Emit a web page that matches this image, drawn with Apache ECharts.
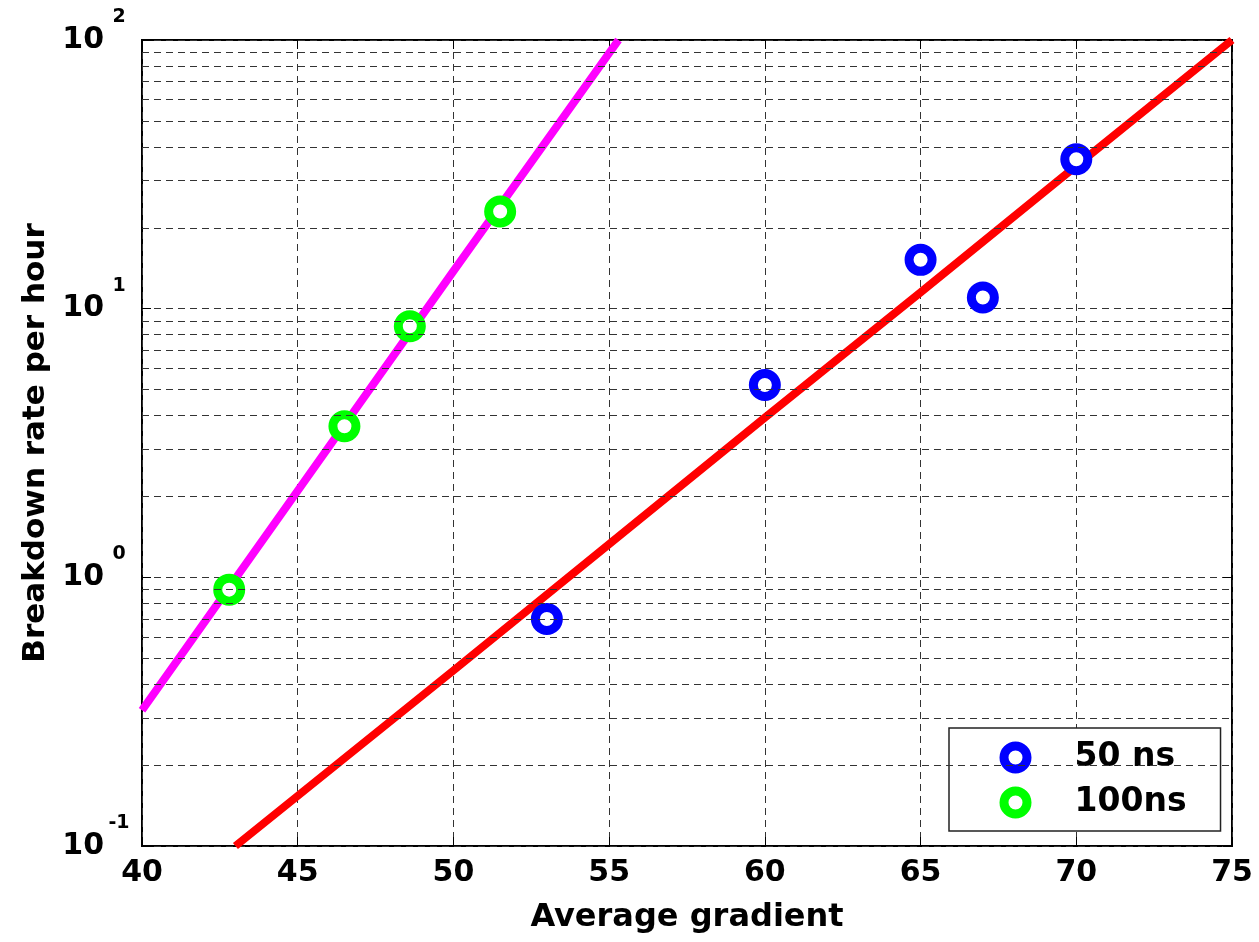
<!DOCTYPE html>
<html lang="en">

<head>
    <meta charset="UTF-8">
    <title>Breakdown rate</title>
    <script src="https://cdn.jsdelivr.net/npm/echarts@6/dist/echarts.min.js"></script>
</head>

<body style="margin:0;background:#fff;">
    <div id="main" style="width: 1259px;height:942px;"></div>
    <script type="text/javascript">
        // 数据点 (gradient, rate)
        var pts50 = [[53, 0.7], [60, 5.2], [65, 15.2], [67, 11.0], [70, 36]];
        var pts100 = [[42.8, 0.9], [46.5, 3.65], [48.6, 8.6], [51.5, 23]];
        // 拟合线
        var fit50 = [[43, 0.1], [50, 0.45], [55, 1.33], [60, 3.93], [65, 11.5], [70, 34], [75, 100]];
        var fit100 = [[40, 0.32], [45, 2.1], [50, 13.8], [55.3, 100]];
        // 对数网格线
        var minorY = [0.2, 0.3, 0.4, 0.5, 0.6, 0.7, 0.8, 0.9, 2, 3, 4, 5, 6, 7, 8, 9, 20, 30, 40, 50, 60, 70, 80, 90];

        var font = 'DejaVu Sans, sans-serif';
        var dash = { color: '#333', width: 1, type: [7, 5] };

        var myChart = echarts.init(document.getElementById('main'));
        var option = {
            animation: false,
            textStyle: { fontFamily: font },
            grid: {
                left: 142, right: 27, top: 40, bottom: 96,
                outerBoundsMode: 'none',
                containLabel: false,
                show: true, borderColor: '#000', borderWidth: 2
            },
            legend: {
                orient: 'vertical',
                left: 949, top: 728,
                padding: [13, 34, 12, 50.5],
                itemGap: 12,
                itemWidth: 23, itemHeight: 23,
                borderColor: '#222', borderWidth: 1.5,
                backgroundColor: '#fff',
                data: [
                    { name: '50 ns', icon: 'circle', itemStyle: { color: '#fff', borderColor: '#0000ff', borderWidth: 9 } },
                    { name: '100ns', icon: 'circle', itemStyle: { color: '#fff', borderColor: '#00ff00', borderWidth: 9 } }
                ],
                textStyle: {
                    fontSize: 33, fontWeight: 'bold', color: '#000',
                    lineHeight: 32,
                    padding: [0, 0, 0, 42.5]
                }
            },
            xAxis: [{
                type: 'value', min: 40, max: 75, interval: 5,
                name: 'Average gradient', nameLocation: 'middle', nameGap: 56,
                nameTextStyle: { fontSize: 32, fontWeight: 'bold', color: '#000' },
                axisLine: { show: false },
                axisTick: { inside: true, length: 9, lineStyle: { color: '#000' } },
                axisLabel: { fontSize: 30, fontWeight: 'bold', color: '#000', margin: 12 },
                splitLine: { lineStyle: dash }
            }, {
                type: 'value', min: 40, max: 75, interval: 5, position: 'top',
                axisLine: { show: false },
                axisTick: { inside: true, length: 9, lineStyle: { color: '#000' } },
                axisLabel: { show: false },
                splitLine: { show: false }
            }],
            yAxis: [{
                type: 'log', logBase: 10, min: 0.1, max: 100,
                name: 'Breakdown rate per hour', nameLocation: 'middle', nameGap: 88,
                nameTextStyle: { fontSize: 31, fontWeight: 'bold', color: '#000' },
                axisLine: { show: false },
                axisTick: { inside: true, length: 9, lineStyle: { color: '#000' } },
                axisLabel: {
                    margin: 14,
                    formatter: function (v) {
                        var e = Math.round(Math.log10(v));
                        return '{b|10}{s|' + e + '}';
                    },
                    rich: {
                        b: { fontSize: 30, fontWeight: 'bold', color: '#000', fontFamily: font },
                        s: {
                            fontSize: 19, fontWeight: 'bold', color: '#000', fontFamily: font,
                            width: 18, align: 'left', padding: [0, 0, 46, 6]
                        }
                    }
                },
                splitLine: { lineStyle: dash }
            }, {
                type: 'log', logBase: 10, min: 0.1, max: 100, position: 'right',
                axisLine: { show: false },
                axisTick: { inside: true, length: 9, lineStyle: { color: '#000' } },
                axisLabel: { show: false },
                splitLine: { show: false }
            }],
            series: [
                {
                    name: 'grid',
                    type: 'line',
                    data: [],
                    silent: true,
                    markLine: {
                        silent: true,
                        symbol: 'none',
                        label: { show: false },
                        lineStyle: dash,
                        data: minorY.map(function (v) { return { yAxis: v }; })
                    }
                },
                {
                    name: 'fit100',
                    type: 'line',
                    data: fit100,
                    showSymbol: false,
                    lineStyle: { color: '#ff00ff', width: 8 },
                    z: 3
                },
                {
                    name: 'fit50',
                    type: 'line',
                    data: fit50,
                    showSymbol: false,
                    lineStyle: { color: '#ff0000', width: 8 },
                    z: 3
                },
                {
                    name: '50 ns',
                    type: 'scatter',
                    data: pts50,
                    symbol: 'circle',
                    symbolSize: 23,
                    itemStyle: { color: '#fff', borderColor: '#0000ff', borderWidth: 9, opacity: 1 },
                    z: 4
                },
                {
                    name: '100ns',
                    type: 'scatter',
                    data: pts100,
                    symbol: 'circle',
                    symbolSize: 23,
                    itemStyle: { color: '#fff', borderColor: '#00ff00', borderWidth: 9, opacity: 1 },
                    z: 4
                }
            ]
        };
        myChart.setOption(option);
    </script>
</body>

</html>
